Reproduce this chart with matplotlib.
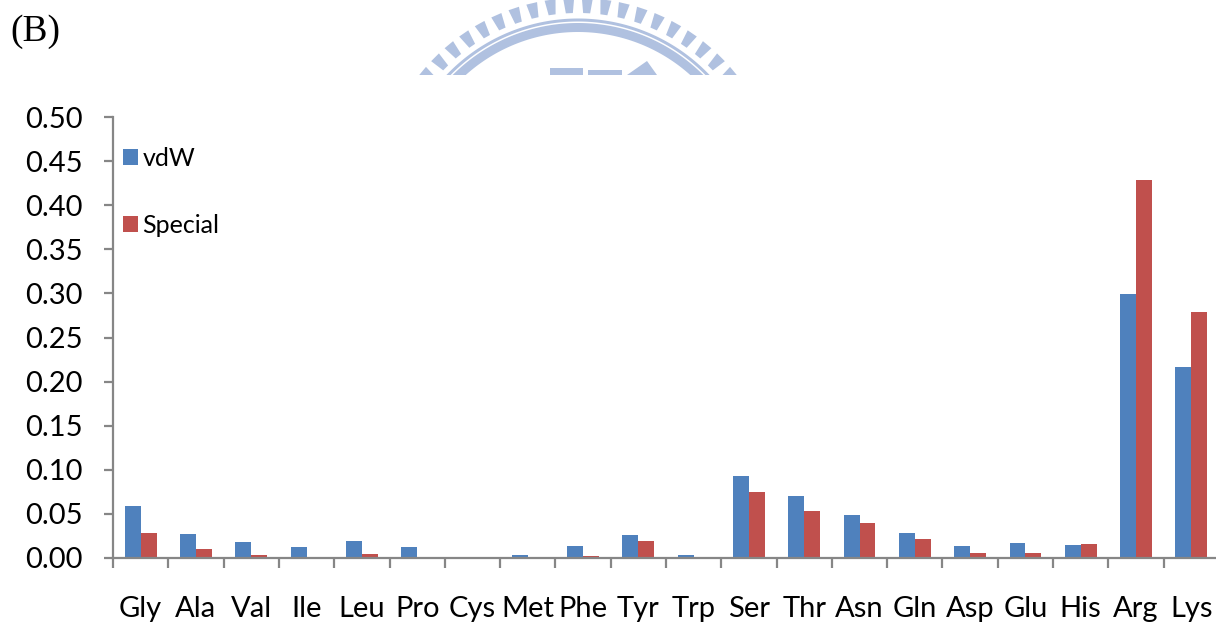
import numpy as np
import matplotlib
matplotlib.use("Agg")
import matplotlib.pyplot as plt
from matplotlib.patches import Polygon, Rectangle

categories = ["Gly","Ala","Val","Ile","Leu","Pro","Cys","Met","Phe","Tyr","Trp","Ser","Thr","Asn","Gln","Asp","Glu","His","Arg","Lys"]
vdw = [0.059,0.027,0.018,0.013,0.019,0.013,0.0,0.003,0.014,0.026,0.003,0.093,0.070,0.049,0.028,0.014,0.017,0.015,0.299,0.217]
special = [0.028,0.010,0.003,0.0015,0.004,0.0,0.0,0.0,0.002,0.019,0.001,0.075,0.053,0.040,0.021,0.006,0.006,0.016,0.429,0.279]
yticks = [0.0,0.05,0.10,0.15,0.20,0.25,0.30,0.35,0.40,0.45,0.50]
BLUE, RED, LOGO = "#4F81BD", "#C0504D", "#B0C1E0"
W, H = 1216, 626
plt.rcParams['font.family'] = ['Lato', 'DejaVu Sans']
fig = plt.figure(figsize=(W/100, H/100), dpi=100)

# full-figure pixel overlay for the watermark and the panel letter
bg = fig.add_axes([0, 0, 1, 1])
bg.set_xlim(0, W); bg.set_ylim(H, 0); bg.axis("off")
clip = Rectangle((400, 0), 360, 75, transform=bg.transData)
cx, cy = 578, 200
def add_logo(pts):
    p = Polygon(pts, closed=True, fc=LOGO, ec="none")
    bg.add_patch(p)
    p.set_clip_path(clip)
def ring(r0, r1):
    th = np.radians(np.linspace(180, 360, 240))
    add_logo(np.r_[np.c_[cx + r1*np.cos(th), cy + r1*np.sin(th)],
                   np.c_[cx + r0*np.cos(th[::-1]), cy + r0*np.sin(th[::-1])]])
ring(168, 177)
ring(178.5, 181.5)
for k in range(-12, 12):
    a = np.radians(270 + 5.3*(k + 0.5))
    ux, uy = np.cos(a), np.sin(a)
    nx, ny = -uy, ux
    r0, r1, w0, w1 = 187, 202, 3.5, 5.5
    add_logo([(cx+r0*ux-w0*nx, cy+r0*uy-w0*ny), (cx+r1*ux-w1*nx, cy+r1*uy-w1*ny),
              (cx+r1*ux+w1*nx, cy+r1*uy+w1*ny), (cx+r0*ux+w0*nx, cy+r0*uy+w0*ny)])
for pts in ([(550,75),(550,68),(583,68),(583,75)], [(588,75),(588,70),(622,70),(622,75)],
            [(627,75),(647,61),(657,75)]):
    add_logo(pts)
bg.text(10, 32, "(B)", fontsize=27, family="Liberation Serif", va="center", ha="left")

ax = fig.add_axes([113/W, 1-558/H, (W-113)/W, 441/H])
ax.patch.set_alpha(0)
x = np.arange(len(categories))
bw = 0.287
ax.bar(x-bw/2, vdw, bw, color=BLUE, label="vdW")
ax.bar(x+bw/2, special, bw, color=RED, label="Special")
ax.set_xlim(-0.5, -0.5 + (W-113)/55.3)
ax.set_ylim(0, 0.5)
ax.set_yticks(yticks, [f"{v:.2f}" for v in yticks], fontsize=21, color="black")
ax.set_xticks(x-0.5, [""]*len(x))
ax.tick_params(axis="y", length=6.5, width=1.6, color="#868686", pad=15.5)
ax.tick_params(axis="x", length=7.5, width=1.6, color="#868686", direction="out")
for s in ("top","right"):
    ax.spines[s].set_visible(False)
for s in ("left","bottom"):
    ax.spines[s].set_color("#868686"); ax.spines[s].set_linewidth(1.6)
for xi, c in zip(x, categories):
    ax.annotate(c, (xi, 0), xytext=(0, -51), xycoords="data", textcoords="offset pixels",
                ha="center", va="center", fontsize=21, annotation_clip=False)

h, l = ax.get_legend_handles_labels()
ax.legend(h, l, loc="upper left", bbox_to_anchor=(10/1103, 0.932), frameon=False, fontsize=18,
          handlelength=0.6, handleheight=0.6, handletextpad=0.17, labelspacing=1.77,
          borderaxespad=0, borderpad=0)
fig.savefig("out.png", dpi=100)
